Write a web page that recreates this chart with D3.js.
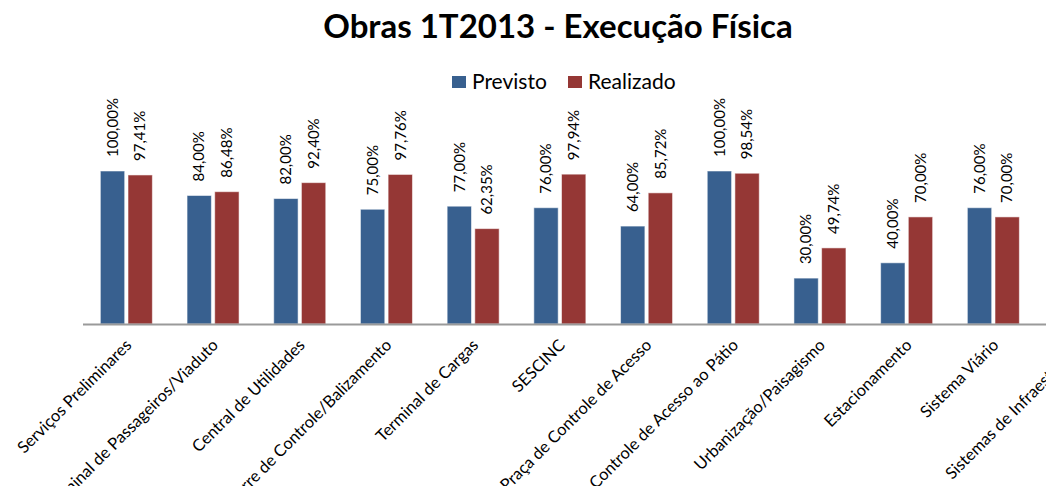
<!DOCTYPE html>
<html>
<head>
<meta charset="utf-8">
<script src="https://cdn.jsdelivr.net/npm/d3@7"></script>
<style>
body { margin: 0; background: #fff; }
svg { display: block; overflow: hidden; font-family: Lato, "Open Sans", sans-serif; }
.title { font-weight: bold; font-size: 33px; fill: #000; }
.legend text { font-size: 21px; fill: #000; }
.vlabel { font-size: 15px; fill: #000; }
.xlabel { font-size: 16.5px; fill: #000; }
</style>
</head>
<body>
<svg></svg>
<script>

// chart data
var categories = [
  "Serviços Preliminares",
  "Terminal de Passageiros/Viaduto",
  "Central de Utilidades",
  "Torre de Controle/Balizamento",
  "Terminal de Cargas",
  "SESCINC",
  "Praça de Controle de Acesso",
  "Controle de Acesso ao Pátio",
  "Urbanização/Paisagismo",
  "Estacionamento",
  "Sistema Viário",
  "Sistemas de Infraestrutura"
];
var previsto  = [100, 84, 82, 75, 77, 76, 64, 100, 30, 40, 76, 0];
var realizado = [97.41, 86.48, 92.40, 97.76, 62.35, 97.94, 85.72, 98.54, 49.74, 70, 70, 0];
var seriesNames = ["Previsto", "Realizado"];
var seriesColors = ["#38608f", "#953735"];

var width = 1046, height = 486;

var svg = d3.select("svg")
    .attr("width", width)
    .attr("height", height);

var x = d3.scaleBand()
    .domain(categories)
    .range([83, 83 + 86.7 * categories.length])
    .paddingInner(0.4)
    .paddingOuter(0.2);

var xs = d3.scaleBand()
    .domain(seriesNames)
    .range([0, x.bandwidth()])
    .paddingInner(0.12);

var y = d3.scaleLinear()
    .domain([0, 120])
    .range([324, 140.4]);

var rows = categories.map(function(c, i) {
    return { cat: c, values: [previsto[i], realizado[i]] };
});

// title
svg.append("text")
    .attr("class", "title")
    .attr("x", 558)
    .attr("y", 38)
    .attr("text-anchor", "middle")
    .text("Obras 1T2013 - Execução Física");

// legend
var legend = svg.append("g").attr("class", "legend");
var legendX = [452, 568];
seriesNames.forEach(function(s, i) {
    legend.append("rect")
        .attr("x", legendX[i])
        .attr("y", 76)
        .attr("width", 14)
        .attr("height", 12)
        .attr("fill", seriesColors[i]);
    legend.append("text")
        .attr("x", legendX[i] + 20)
        .attr("y", 89)
        .text(s);
});

// bars
var groups = svg.selectAll("g.cat")
    .data(rows)
    .enter().append("g")
    .attr("class", "cat")
    .attr("transform", function(d) { return "translate(" + x(d.cat) + ",0)"; });

var cells = groups.selectAll("g.bar")
    .data(function(d) {
        return d.values
            .map(function(v, i) { return { s: seriesNames[i], v: v, i: i }; })
            .filter(function(e) { return e.v > 0; });
    })
    .enter().append("g")
    .attr("class", "bar");

cells.append("rect")
    .attr("x", function(d) { return xs(d.s); })
    .attr("y", function(d) { return y(d.v); })
    .attr("width", xs.bandwidth())
    .attr("height", function(d) { return y(0) - y(d.v); })
    .attr("fill", function(d) { return seriesColors[d.i]; })
    .attr("stroke", "#ffffff")
    .attr("stroke-opacity", 0.55)
    .attr("stroke-width", 1);

cells.append("text")
    .attr("class", "vlabel")
    .attr("transform", function(d) {
        return "translate(" + (xs(d.s) + xs.bandwidth() / 2) + "," + (y(d.v) - 14) + ") rotate(-90)";
    })
    .attr("dy", "0.35em")
    .text(function(d) { return d3.format(".2f")(d.v).replace(".", ",") + "%"; });

// x axis line
svg.append("line")
    .attr("x1", x.range()[0])
    .attr("x2", x.range()[1])
    .attr("y1", y(0) + 0.5)
    .attr("y2", y(0) + 0.5)
    .attr("stroke", "#9a9a9a")
    .attr("stroke-width", 2);

// category labels
svg.selectAll("text.xlabel")
    .data(categories)
    .enter().append("text")
    .attr("class", "xlabel")
    .attr("text-anchor", "end")
    .attr("transform", function(d) {
        return "translate(" + (x(d) + x.bandwidth() / 2 - 2) + ",338) rotate(-45)";
    })
    .attr("dy", "0.7em")
    .text(function(d) { return d; });

</script>
</body>
</html>
